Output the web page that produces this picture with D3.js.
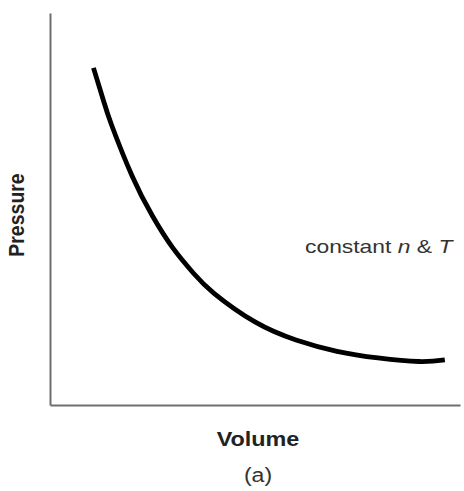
<!DOCTYPE html>
<html>
<head>
<meta charset="utf-8">
<script src="https://cdn.jsdelivr.net/npm/d3@7"></script>
<style>
  html, body { margin: 0; padding: 0; background: #fff; }
  svg { display: block; }
</style>
</head>
<body>
<svg id="chart" width="464" height="491"></svg>
<script>
// Boyle's law: pressure against volume at constant n and T (arbitrary units)
const volume   = [1.06, 1.30, 1.50, 2.00, 2.50, 3.00, 3.50, 4.00, 5.00, 6.00, 7.00, 8.00, 9.00, 9.63];
const pressure = [8.60, 7.78, 7.15, 5.85, 4.82, 4.00, 3.36, 2.85, 2.12, 1.66, 1.37, 1.20, 1.11, 1.15];
const xLabel = "Volume";
const yLabel = "Pressure";
const caption = "(a)";

const svg = d3.select("#chart");
const plot = { left: 50, right: 460, top: 13, bottom: 405 };

const x = d3.scaleLinear().domain([0, 10]).range([plot.left, plot.right]);
const y = d3.scaleLinear().domain([0, 10]).range([plot.bottom, plot.top]);

// Axes: plain lines without ticks
const axisColor = "#6e6e6e";
svg.append("g")
  .attr("transform", `translate(0,${plot.bottom})`)
  .call(d3.axisBottom(x).tickValues([]).tickSizeOuter(0))
  .call(g => g.select(".domain").attr("stroke", axisColor).attr("stroke-width", 2));
svg.append("g")
  .attr("transform", `translate(${plot.left},0)`)
  .call(d3.axisLeft(y).tickValues([]).tickSizeOuter(0))
  .call(g => g.select(".domain").attr("stroke", axisColor).attr("stroke-width", 2));

// Isotherm curve
const pts = volume.map((v, i) => [v, pressure[i]]);
const line = d3.line()
  .x(d => x(d[0]))
  .y(d => y(d[1]))
  .curve(d3.curveNatural);
svg.append("path")
  .datum(pts)
  .attr("fill", "none")
  .attr("stroke", "#000")
  .attr("stroke-width", 4.8)
  .attr("stroke-linecap", "butt")
  .attr("d", line);

const font = "Liberation Sans, Arial, Helvetica, sans-serif";

// Axis titles
svg.append("text")
  .attr("transform", `translate(${(plot.left + plot.right) / 2 + 3},446) scale(1.17,1)`)
  .attr("text-anchor", "middle")
  .attr("font-family", font)
  .attr("font-weight", "bold")
  .attr("font-size", 20)
  .attr("fill", "#222")
  .text(xLabel);

svg.append("text")
  .attr("transform", `translate(24,${(plot.top + plot.bottom) / 2 + 6}) scale(1.15,1) rotate(-90)`)
  .attr("text-anchor", "middle")
  .attr("font-family", font)
  .attr("font-weight", "bold")
  .attr("font-size", 19.5)
  .attr("fill", "#222")
  .text(yLabel);

// Condition note
const note = svg.append("text")
  .attr("transform", "translate(305,253) scale(1.27,1)")
  .attr("font-family", font)
  .attr("font-size", 18)
  .attr("fill", "#333");
note.append("tspan").text("constant ");
note.append("tspan").attr("font-style", "italic").text("n");
note.append("tspan").text(" & ");
note.append("tspan").attr("font-style", "italic").text("T");

// Panel caption
svg.append("text")
  .attr("transform", `translate(258,482) scale(1.1,1)`)
  .attr("text-anchor", "middle")
  .attr("font-family", font)
  .attr("font-size", 21)
  .attr("fill", "#333")
  .text(caption);
</script>
</body>
</html>
